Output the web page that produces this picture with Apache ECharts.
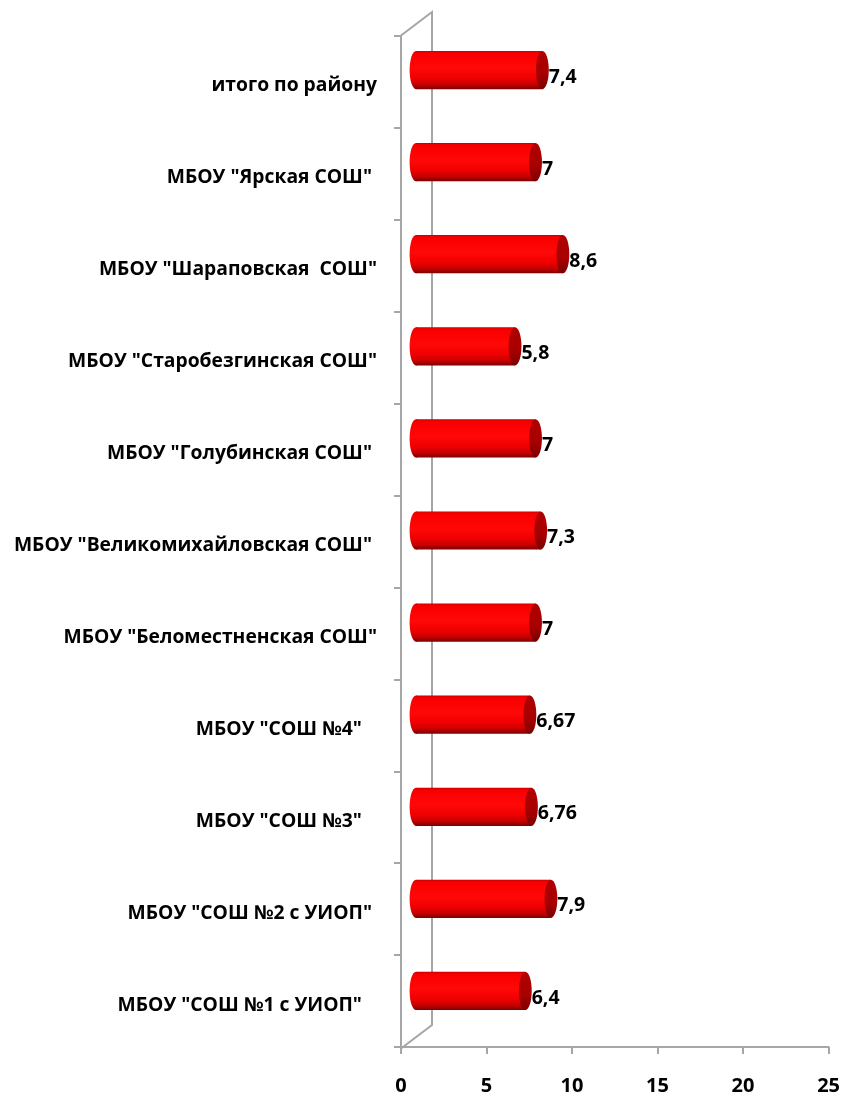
<!DOCTYPE html>
<html><head><meta charset="utf-8">
<style>html,body{margin:0;padding:0;background:#fff}#c{width:843px;height:1096px}</style>
<script src="https://cdn.jsdelivr.net/npm/echarts@6/dist/echarts.min.js"></script>
</head><body><div id="c"></div>
<script>
const NB = '\u00a0';
const categories = ['итого по району', 'МБОУ "Ярская СОШ"'+NB, 'МБОУ "Шараповская  СОШ"', 'МБОУ "Старобезгинская СОШ"',
  'МБОУ "Голубинская СОШ"'+NB, 'МБОУ "Великомихайловская СОШ"'+NB, 'МБОУ "Беломестненская СОШ"', 'МБОУ "СОШ №4"'+NB+NB+NB,
  'МБОУ "СОШ №3"'+NB+NB+NB, 'МБОУ "СОШ №2 с УИОП"'+NB, 'МБОУ "СОШ №1 с УИОП"'+NB+NB+NB];
const values = [7.4, 7, 8.6, 5.8, 7, 7.3, 7, 6.67, 6.76, 7.9, 6.4];
const xTicks = {min: 0, max: 25, interval: 5};

const FONT = '"Open Sans","Liberation Sans",sans-serif';
const GREY = '#a6a6a6';
const chart = echarts.init(document.getElementById('c'), null, {renderer: 'canvas'});
function bodyFill(){
  return new echarts.graphic.LinearGradient(0,0,0,1,[
    {offset:0,color:'#c00000'},{offset:0.04,color:'#f00000'},{offset:0.1,color:'#fa0000'},
    {offset:0.45,color:'#ff0808'},{offset:0.72,color:'#ee0000'},{offset:0.88,color:'#c40000'},{offset:1,color:'#7a0000'}]);
}
chart.setOption({
  animation:false,
  backgroundColor:'#fff',
  grid:[
    {left:401,top:36,width:428,height:1013},
    {left:416,top:24,width:428,height:1013}
  ],
  xAxis:[
    {type:'value',gridIndex:0,min:xTicks.min,max:xTicks.max,interval:xTicks.interval,
     splitLine:{show:false},
     axisLine:{show:true,lineStyle:{color:GREY,width:2}},
     axisTick:{show:true,length:7,lineStyle:{color:GREY,width:2}},
     axisLabel:{fontFamily:FONT,fontWeight:'bold',fontSize:20,color:'#000',margin:29,hideOverlap:false,showMinLabel:true,showMaxLabel:true}},
    {type:'value',gridIndex:1,min:xTicks.min,max:xTicks.max,show:false}
  ],
  yAxis:[
    {type:'category',gridIndex:0,inverse:true,data:categories,
     axisLine:{show:true,lineStyle:{color:GREY,width:2}},
     axisTick:{show:true,length:7,alignWithLabel:false,lineStyle:{color:GREY,width:2}},
     axisLabel:{interval:0,fontFamily:FONT,fontWeight:'bold',fontSize:19.3,color:'#000',margin:24,verticalAlign:'top',lineHeight:8}},
    {type:'category',gridIndex:1,inverse:true,data:categories,show:false}
  ],
  graphic:[
    {type:'polyline',z:-1,silent:true,shape:{points:[[401,35.5],[432,12],[432,1025],[401,1048.5]]},
     style:{stroke:GREY,lineWidth:2,fill:null}}
  ],
  series:[{
    type:'custom',xAxisIndex:1,yAxisIndex:1,clip:false,z:5,
    data:values.map((v,i)=>[v,i]),
    encode:{x:0,y:1},
    renderItem(params,api){
      const v=api.value(0), i=api.value(1);
      const s=api.coord([0,i]), e=api.coord([v,i]);
      const h=api.size([0,1])[1]*0.415, ry=h/2, rx=6.4;
      return {type:'group',children:[
        {type:'ellipse',shape:{cx:s[0],cy:s[1],rx:rx,ry:ry},style:{fill:bodyFill()}},
        {type:'rect',shape:{x:s[0],y:s[1]-ry,width:e[0]-s[0],height:h},style:{fill:bodyFill()}},
        {type:'ellipse',shape:{cx:e[0],cy:e[1],rx:rx,ry:ry},style:{fill:new echarts.graphic.LinearGradient(0,0,0,1,[
          {offset:0,color:'#b00000'},{offset:0.6,color:'#a80000'},{offset:1,color:'#7a0000'}])}},
        {type:'text',style:{x:e[0]+rx,y:e[1]+7,text:String(v).replace('.',','),fill:'#000',
          font:'bold 19.5px '+FONT,align:'left',verticalAlign:'middle'}}
      ]};
    }
  }]
});
</script></body></html>
